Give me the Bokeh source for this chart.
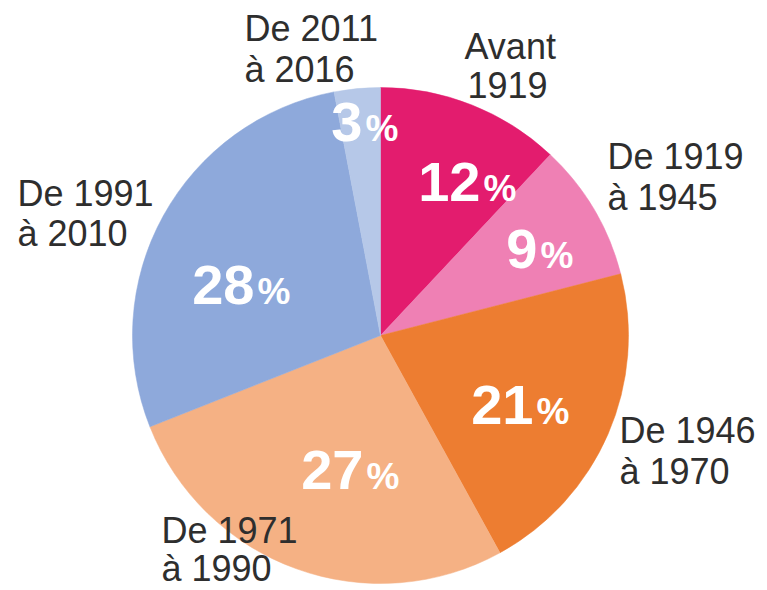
import numpy as np
from bokeh.plotting import figure
from bokeh.models import Range1d, ColumnDataSource
from bokeh.core.properties import value
from bokeh.embed import file_html
from bokeh.resources import INLINE

# ---- data ----
categories = ["Avant 1919", "De 1919 à 1945", "De 1946 à 1970",
              "De 1971 à 1990", "De 1991 à 2010", "De 2011 à 2016"]
label_line1 = ["Avant", "De 1919", "De 1946", "De 1971", "De 1991", "De 2011"]
label_line2 = ["1919", "à 1945", "à 1970", "à 1990", "à 2010", "à 2016"]
shares = [12, 9, 21, 27, 28, 3]
colors = ["#E31C6E", "#EF80B4", "#ED7D31", "#F5B184", "#8EA9DB", "#B6C8E8"]

# ---- layout (picture pixel coordinates; y measured from top) ----
W, H = 767, 590
cx, cy, R = 380, 335, 248
NUM_FS, PCT_FS, LAB_FS = 56, 37, 36
ADJ = 0.33  # baseline correction (fraction of font size)

def Y(ypix):
    return H - ypix

p = figure(width=W, height=H, output_backend="svg", toolbar_location=None,
           x_range=Range1d(0, W), y_range=Range1d(0, H), min_border=0)
p.axis.visible = False
p.grid.visible = False
p.outline_line_color = None
p.background_fill_color = "white"
p.border_fill_color = "white"

vals = np.array(shares, dtype=float)
frac = vals / vals.sum()
cum = np.concatenate([[0], np.cumsum(frac)])
start_deg = 90 - cum[1:] * 360
end_deg = 90 - cum[:-1] * 360

src = ColumnDataSource(dict(
    x=[cx] * len(shares), y=[Y(cy)] * len(shares),
    start=np.radians(start_deg), end=np.radians(end_deg),
    color=colors, cat=categories))
p.wedge(x="x", y="y", radius=R, radius_units="screen",
        start_angle="start", end_angle="end", direction="anticlock",
        fill_color="color", line_color="color", line_width=0.5, source=src)

# percent labels: junction x between number and "%", baseline y
pct_x = [481, 538, 534, 364, 255, 363]
pct_y = [200, 267, 423, 488, 303, 140]
num_text = [str(s) for s in shares]
p.text(x=[x - 1 for x in pct_x], y=[Y(v - ADJ * NUM_FS) for v in pct_y], text=num_text,
       text_align="right", text_baseline="alphabetic",
       text_font=value("Liberation Sans"), text_font_style="bold",
       text_font_size=f"{NUM_FS}px", text_color="white")
p.text(x=[x + 2 for x in pct_x], y=[Y(v - ADJ * PCT_FS) for v in pct_y], text=["%"] * len(shares),
       text_align="left", text_baseline="alphabetic",
       text_font=value("Liberation Sans"), text_font_style="bold",
       text_font_size=f"{PCT_FS}px", text_color="white")

# outer category labels (two lines each)
l1_x = [464, 607, 619, 161, 17, 244]
l1_y = [58, 168, 442, 542, 205, 40]
l2_x = [467, 607, 619, 161, 17, 244]
l2_y = [96, 209, 483, 580, 245, 81]
common = dict(text_align="left", text_baseline="alphabetic",
              text_font=value("Liberation Sans"), text_font_size=f"{LAB_FS}px",
              text_color="#2e2e2e")
p.text(x=l1_x, y=[Y(v - ADJ * LAB_FS) for v in l1_y], text=label_line1, **common)
p.text(x=l2_x, y=[Y(v - ADJ * LAB_FS) for v in l2_y], text=label_line2, **common)

open("out.html", "w").write(file_html(p, INLINE))
